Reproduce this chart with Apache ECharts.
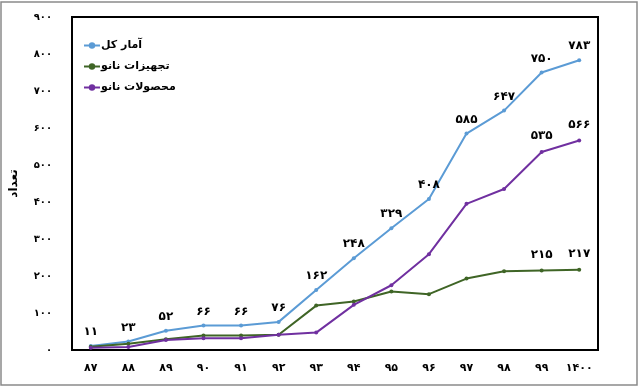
<!DOCTYPE html>
<html><head><meta charset="utf-8">
<script src="https://cdn.jsdelivr.net/npm/echarts@6/dist/echarts.min.js"></script>
<style>html,body{margin:0;padding:0;background:#fff}#c{width:640px;height:387px}</style>
</head><body><div id="c"></div>
<script>
var categories = ['۸۷','۸۸','۸۹','۹۰','۹۱','۹۲','۹۳','۹۴','۹۵','۹۶','۹۷','۹۸','۹۹','۱۴۰۰'];
var totalValues = [11, 23, 52, 66, 66, 76, 162, 248, 329, 408, 585, 647, 750, 783];
var equipValues = [9, 17, 29, 39, 39, 41, 120, 131, 158, 151, 193, 213, 215, 217];
var productValues = [6, 8, 27, 32, 32, 41, 47, 122, 175, 259, 395, 435, 535, 566];
var totalLabeled = [0,1,2,3,4,5,6,7,8,9,10,11,12,13];
var equipLabeled = [12,13];
var productLabeled = [12,13];
var seriesNames = ['آمار کل','تجهیزات نانو','محصولات نانو'];
var yTicks = [0,100,200,300,400,500,600,700,800,900];

function fa(n){ return String(n).replace(/\d/g, function(d){ return '۰۱۲۳۴۵۶۷۸۹'[+d]; }); }
var FONT = 'DejaVu Sans';
function build(vals, labeled){
  return vals.map(function(v,i){
    return {value: v, label: {show: labeled.indexOf(i) >= 0}};
  });
}
var colors = ['#5b9bd5','#3f6526','#7030a0'];
var chart = echarts.init(document.getElementById('c'));
chart.setOption({
  animation: false,
  textStyle: {fontFamily: FONT},
  graphic: [{type:'rect', shape:{x:1,y:2,width:636,height:383}, style:{fill:'none', stroke:'#8a8a8a', lineWidth:1.5}, silent:true}],
  grid: {left: 61, right: 42, top: 17, bottom: 37, show: true, borderColor: '#000', borderWidth: 2, backgroundColor: 'transparent'},
  legend: {
    orient: 'vertical', left: 78, top: 35, itemGap: 10, itemWidth: 16, itemHeight: 8,
    data: seriesNames,
    textStyle: {fontFamily: FONT, fontWeight: 'bold', fontSize: 11, color: '#000', padding: [0,0,0,-4]}
  },
  xAxis: {
    type: 'category', data: categories, boundaryGap: true,
    axisLine: {lineStyle: {color: '#000', width: 2}}, axisTick: {show: false},
    axisLabel: {color: '#000', fontWeight: 'bold', fontSize: 11, margin: 13, fontFamily: FONT}
  },
  yAxis: {
    type: 'value', min: 0, max: 900, interval: 100,
    name: 'تعداد', nameLocation: 'middle', nameGap: 52, nameRotate: 90,
    nameTextStyle: {color: '#000', fontWeight: 'bold', fontSize: 12, fontFamily: FONT},
    splitLine: {show: false},
    axisLine: {show: true, lineStyle: {color: '#000', width: 2}}, axisTick: {show: false},
    axisLabel: {color: '#000', fontWeight: 'bold', fontSize: 10, margin: 20, fontFamily: FONT,
      formatter: function(v){ return yTicks.indexOf(v) >= 0 ? fa(v) : ''; }}
  },
  series: [
    {name: seriesNames[0], type: 'line', data: build(totalValues, totalLabeled), color: colors[0],
     symbol: 'circle', symbolSize: 4, lineStyle: {width: 2},
     label: {position: 'top', distance: 6, color: '#000', fontWeight: 'bold', fontSize: 12, fontFamily: FONT, formatter: function(p){ return fa(p.value); }}},
    {name: seriesNames[1], type: 'line', data: build(equipValues, equipLabeled), color: colors[1],
     symbol: 'circle', symbolSize: 4, lineStyle: {width: 2},
     label: {position: 'top', distance: 8, color: '#000', fontWeight: 'bold', fontSize: 12, fontFamily: FONT, formatter: function(p){ return fa(p.value); }}},
    {name: seriesNames[2], type: 'line', data: build(productValues, productLabeled), color: colors[2],
     symbol: 'circle', symbolSize: 4, lineStyle: {width: 2},
     label: {position: 'top', distance: 8, color: '#000', fontWeight: 'bold', fontSize: 12, fontFamily: FONT, formatter: function(p){ return fa(p.value); }}}
  ]
});
</script></body></html>
